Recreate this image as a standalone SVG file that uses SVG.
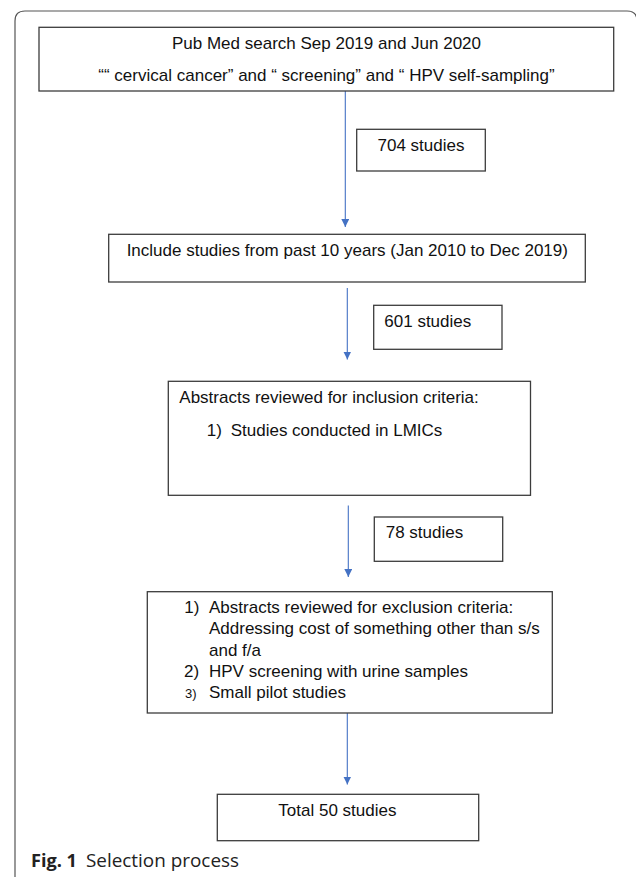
<svg xmlns="http://www.w3.org/2000/svg" width="636" height="877" viewBox="0 0 636 877">
<defs>
<style>
.box{fill:#fff;stroke:#3c3c3c;stroke-width:1.3}
.t{font-family:"Liberation Sans",Arial,sans-serif;font-size:17px;fill:#111}
.tc{text-anchor:middle}
.sm{font-size:13px}
.edge{stroke:#4472C4;stroke-width:1.1;fill:none;marker-end:url(#ah)}
.cap{font-family:"Open Sans","Noto Sans",sans-serif;font-size:18.5px;fill:#222}
</style>
<marker id="ah" viewBox="0 0 8 8" refX="8" refY="4" markerWidth="8" markerHeight="8" markerUnits="userSpaceOnUse" orient="auto">
<path d="M0,0 L8,4 L0,8 Z" fill="#4472C4"/>
</marker>
</defs>
<rect width="636" height="877" fill="#fff"/>
<path d="M15,877 V21 Q15,11 25,11 H627 Q637,11 637,21 V877" fill="none" stroke="#555" stroke-width="1.2"/>

<g id="connectors">
<line class="edge" x1="345.3" y1="91" x2="345.3" y2="227"/>
<line class="edge" x1="347.3" y1="288" x2="347.3" y2="359.5"/>
<line class="edge" x1="348.3" y1="505.5" x2="348.3" y2="577"/>
<line class="edge" x1="347.3" y1="713" x2="347.3" y2="784.5"/>
</g>

<g id="search">
<rect class="box" x="39" y="27.3" width="574.7" height="63.7"/>
<text class="t tc" x="326.5" y="49.3">Pub Med search Sep 2019 and Jun 2020</text>
<text class="t tc" x="326.5" y="81">““ cervical cancer” and “ screening” and “ HPV self-sampling”</text>
</g>

<g id="n704">
<rect class="box" x="356.7" y="129.3" width="128.6" height="41.7"/>
<text class="t tc" x="421" y="151">704 studies</text>
</g>

<g id="years">
<rect class="box" x="108.7" y="234.3" width="476.6" height="47.7"/>
<text class="t tc" x="347.3" y="256">Include studies from past 10 years (Jan 2010 to Dec 2019)</text>
</g>

<g id="n601">
<rect class="box" x="373.7" y="305.3" width="128.3" height="44"/>
<text class="t" x="384.3" y="326.7">601 studies</text>
</g>

<g id="inclusion">
<rect class="box" x="168.3" y="381.3" width="362.2" height="114"/>
<text class="t" x="179.3" y="403.3">Abstracts reviewed for inclusion criteria:</text>
<text class="t" x="206.7" y="435.7">1)</text>
<text class="t" x="230.7" y="435.7">Studies conducted in LMICs</text>
</g>

<g id="n78">
<rect class="box" x="374.3" y="517" width="128.4" height="44.3"/>
<text class="t" x="385.7" y="538.3">78 studies</text>
</g>

<g id="exclusion">
<rect class="box" x="147.3" y="591.7" width="405" height="121.3"/>
<text class="t" x="184.3" y="613.3">1)</text>
<text class="t" x="209" y="613.3">Abstracts reviewed for exclusion criteria:</text>
<text class="t" x="209" y="634">Addressing cost of something other than s/s</text>
<text class="t" x="209" y="655.7">and f/a</text>
<text class="t" x="184" y="676.7">2)</text>
<text class="t" x="209" y="676.7">HPV screening with urine samples</text>
<text class="t sm" x="185" y="697.7">3)</text>
<text class="t" x="209" y="697.7">Small pilot studies</text>
</g>

<g id="total">
<rect class="box" x="217.3" y="794.3" width="261.4" height="46.4"/>
<text class="t" x="278.3" y="815.7">Total 50 studies</text>
</g>

<g id="caption">
<text class="cap" x="31" y="867.3" font-weight="bold" textLength="46" lengthAdjust="spacingAndGlyphs">Fig. 1</text>
<text class="cap" x="86" y="867.3" textLength="153" lengthAdjust="spacingAndGlyphs">Selection process</text>
</g>
</svg>
